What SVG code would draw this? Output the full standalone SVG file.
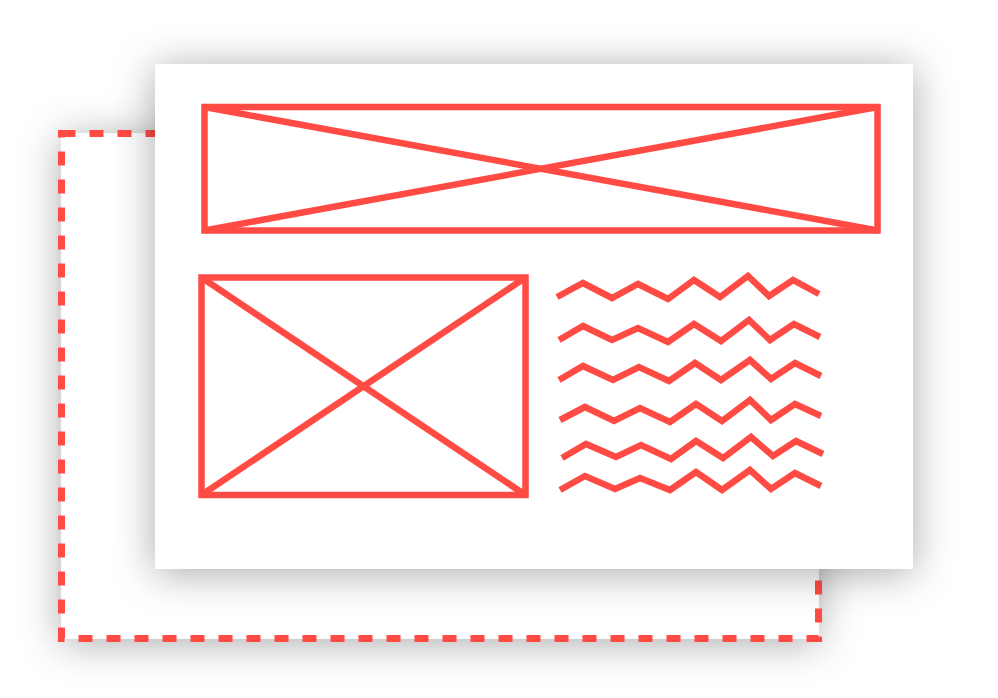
<svg xmlns="http://www.w3.org/2000/svg" width="998" height="698" viewBox="0 0 998 698">
  <defs>
    <filter id="shadow" x="-25%" y="-25%" width="150%" height="150%">
      <feDropShadow dx="0" dy="4" stdDeviation="21" flood-color="#000" flood-opacity="0.34"/>
    </filter>
  </defs>
  <style>
    .red { fill: none; stroke: #ff4b44; stroke-width: 6.5; stroke-linejoin: miter; stroke-miterlimit: 10; }
    .dash { fill: #ffffff; stroke: #ff4b44; stroke-width: 7; stroke-dasharray: 14 14; }
    .card { fill: #ffffff; }
  </style>
  <rect width="998" height="698" fill="#ffffff"/>
  <g id="back-page">
    <rect x="61.5" y="133.5" width="757" height="505" fill="#ffffff" filter="url(#shadow)"/>
    <rect class="dash" x="61.5" y="133.5" width="757" height="505"/>
  </g>
  <g id="front-page">
    <rect class="card" x="155" y="64" width="758" height="505" filter="url(#shadow)"/>
  </g>
  <g id="banner-image">
    <rect class="red" x="204.5" y="107" width="673" height="123.5"/>
    <line class="red" x1="204.5" y1="107" x2="877.5" y2="230.5"/>
    <line class="red" x1="204.5" y1="230.5" x2="877.5" y2="107"/>
  </g>
  <g id="side-image">
    <rect class="red" x="201.5" y="277.5" width="324" height="217.5"/>
    <line class="red" x1="201.5" y1="277.5" x2="525.5" y2="495"/>
    <line class="red" x1="201.5" y1="495" x2="525.5" y2="277.5"/>
  </g>
  <g id="text-lines">
    <polyline class="red" points="557,297 583,283 612,298 638,284 668,299 694,280 720,297 748,276 769,296 793,280 819,294"/>
    <polyline class="red" points="559,340 583,326 612,340 638,328 668,342 694,324 721,341 749,320 770,340 794,324 820,337"/>
    <polyline class="red" points="559,380 583,366 613,380 639,367 669,381 695,363 721,380 750,360 771,379 795,363 821,376"/>
    <polyline class="red" points="560,420 585,407 614,421 640,408 670,422 696,404 722,421 750,400 771,420 795,404 821,416"/>
    <polyline class="red" points="562,458 586,444 616,457 641,445 671,459 696,441 723,458 751,437 773,456 796,441 823,454"/>
    <polyline class="red" points="560,490 585,476 615,489 640,478 670,490 696,472 722,490 750,470 771,489 795,473 821,486"/>
  </g>
</svg>
